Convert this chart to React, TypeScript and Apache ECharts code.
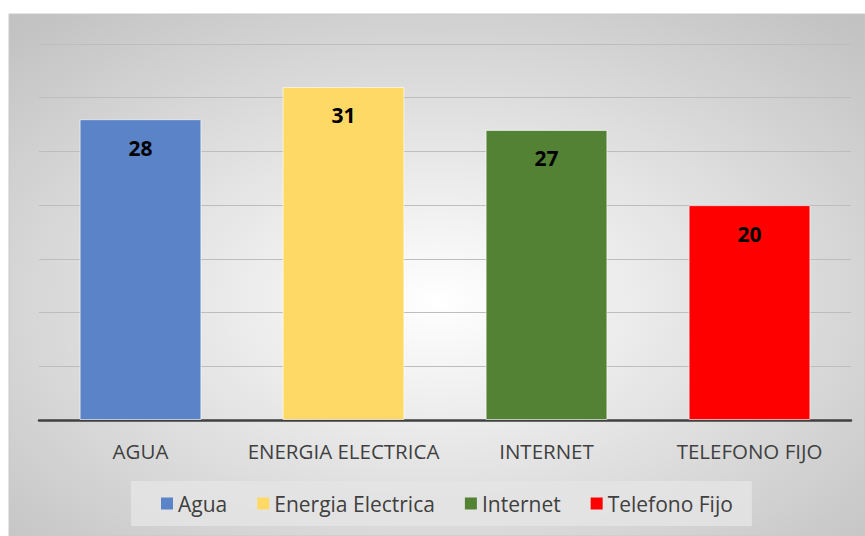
import React, { useEffect, useRef } from "react";
import * as echarts from "echarts";

const categories = ["AGUA", "ENERGIA ELECTRICA", "INTERNET", "TELEFONO FIJO"];
const seriesNames = ["Agua", "Energia Electrica", "Internet", "Telefono Fijo"];
const values = [28, 31, 27, 20];
const colors = ["#5B83C8", "#FFD966", "#548235", "#FF0000"];
const yTicks = { min: 0, max: 35, interval: 5 };

export default function App() {
  const ref = useRef<HTMLDivElement>(null);
  useEffect(() => {
    document.body.style.margin = "0";
    const chart = echarts.init(ref.current!, null, { renderer: "svg" });
    const font = "Open Sans";
    chart.setOption({
      animation: false,
      graphic: [
        {
          type: "rect",
          z: -10,
          silent: true,
          shape: { x: 9, y: 14, width: 856, height: 522 },
          style: {
            fill: new echarts.graphic.RadialGradient(0.5, 0.55, 0.72, [
              { offset: 0, color: "#FFFFFF" },
              { offset: 1, color: "#C2C2C2" },
            ]),
            stroke: "#C8C8C8",
            lineWidth: 1,
          },
        },
      ],
      grid: { left: 39, right: 14, top: 44, bottom: 116 },
      xAxis: {
        type: "category",
        data: categories,
        axisLine: { lineStyle: { color: "#404040", width: 2.5 } },
        axisTick: { show: false },
        axisLabel: { color: "#404040", fontSize: 20.5, fontFamily: font, margin: 20, interval: 0 },
      },
      yAxis: {
        type: "value",
        min: yTicks.min,
        max: yTicks.max,
        interval: yTicks.interval,
        axisLabel: { show: false },
        axisLine: { show: false },
        axisTick: { show: false },
        splitLine: { lineStyle: { color: "#BDBDBD", width: 1 } },
      },
      legend: {
        left: 131,
        top: 481,
        icon: "rect",
        itemWidth: 12,
        itemHeight: 12,
        itemGap: 30,
        itemStyle: { borderWidth: 0 },
        padding: [12, 19, 12, 30],
        backgroundColor: "rgba(228,228,228,0.85)",
        textStyle: { color: "#404040", fontSize: 21, fontFamily: font },
        data: seriesNames,
      },
      series: seriesNames.map((name, i) => ({
        name,
        type: "bar",
        stack: "total",
        barWidth: "60%",
        itemStyle: { color: colors[i], borderColor: "rgba(255,255,255,0.6)", borderWidth: 1 },
        label: {
          show: true,
          position: "insideTop",
          distance: 18,
          color: "#000000",
          fontSize: 21,
          fontWeight: "bold",
          fontFamily: font,
        },
        data: categories.map((_, j) => (j === i ? values[i] : "-")),
      })),
    });
    return () => chart.dispose();
  }, []);
  return <div ref={ref} style={{ width: 865, height: 536 }} />;
}
